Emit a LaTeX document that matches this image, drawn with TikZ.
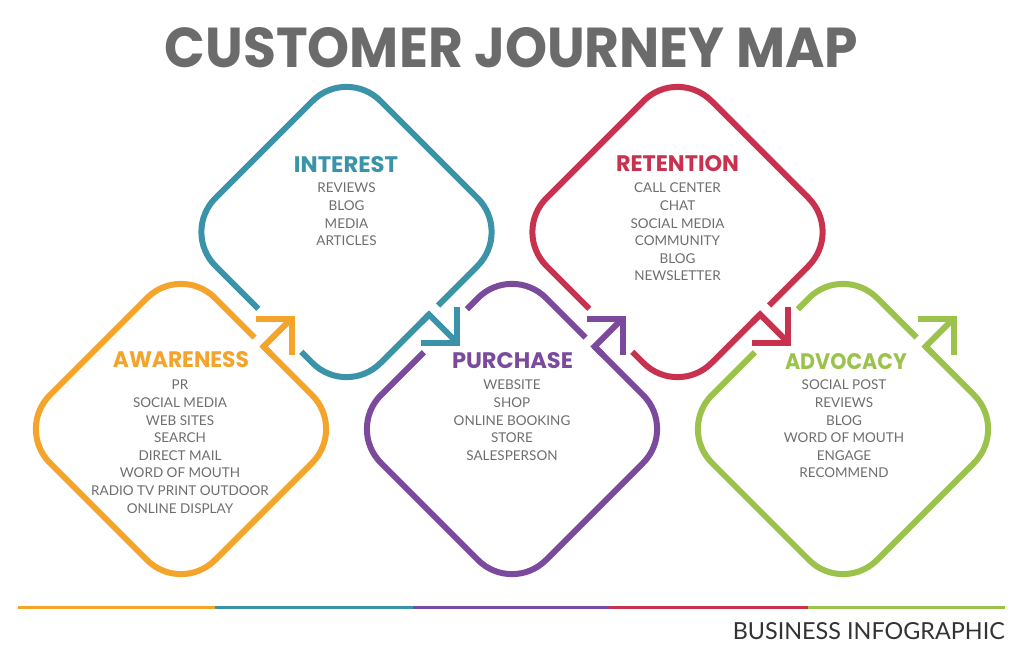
\documentclass[tikz,border=0pt]{standalone}
\usepackage{fontspec}
\setmainfont{Lato}
\newfontfamily\headfont{Poppins}
\usetikzlibrary{calc}
\definecolor{cOr}{HTML}{F4A42A}
\definecolor{cBl}{HTML}{3A93A8}
\definecolor{cPu}{HTML}{7B4A9C}
\definecolor{cRe}{HTML}{C9324F}
\definecolor{cGr}{HTML}{9BC34C}
\definecolor{cTx}{HTML}{6E6E6E}
\definecolor{cTi}{HTML}{6B6B6B}
\tikzset{
  loopline/.style={line width=6pt, rounded corners=48pt, line cap=butt},
  arrline/.style={line width=6pt, sharp corners, line join=miter, line cap=butt},
  heading/.style={inner sep=0pt, font=\headfont\bfseries},
  items/.style={inner sep=0pt, anchor=north, align=center, text=cTx,
    font=\fontsize{13.5}{17.6}\selectfont},
}
\begin{document}
\begin{tikzpicture}[x=1pt,y=-1pt]
\fill[white] (0,0) rectangle (1024,658);
\useasboundingbox (0,0) rectangle (1024,658);
% centres
\coordinate (cA) at (181,429);
\coordinate (cI) at (346.5,232);
\coordinate (cP) at (512,429);
\coordinate (cR) at (677.5,232);
\coordinate (cD) at (843,429);

% ---------- bottom-row loops (Awareness, Purchase, Advocacy)
% Awareness
\draw[loopline, cOr] ($(cA)+(82.5,-82.5)$) -- ($(cA)+(165,0)$) -- ($(cA)+(0,165)$)
  -- ($(cA)+(-165,0)$) -- ($(cA)+(0,-165)$) -- ($(cA)+(73.5,-91.5)$);
\draw[arrline, cOr] ($(cA)+(90.5,-74.5)$) -- ($(cA)+(82.5,-82.5)$) -- ($(cA)+(110.5,-110.5)$);
\draw[arrline, cOr] ($(cA)+(74.5,-110.5)$) -- ($(cA)+(110.5,-110.5)$) -- ($(cA)+(110.5,-74.5)$);

% Purchase
\draw[loopline, cPu] ($(cP)+(82.5,-82.5)$) -- ($(cP)+(165,0)$) -- ($(cP)+(0,165)$)
  -- ($(cP)+(-165,0)$) -- ($(cP)+(-88.25,-76.75)$);
\draw[loopline, cPu] ($(cP)+(-45.25,-119.75)$) -- ($(cP)+(0,-165)$) -- ($(cP)+(73.5,-91.5)$);
\draw[arrline, cPu] ($(cP)+(90.5,-74.5)$) -- ($(cP)+(82.5,-82.5)$) -- ($(cP)+(110.5,-110.5)$);
\draw[arrline, cPu] ($(cP)+(74.5,-110.5)$) -- ($(cP)+(110.5,-110.5)$) -- ($(cP)+(110.5,-74.5)$);

% Advocacy
\draw[loopline, cGr] ($(cD)+(82.5,-82.5)$) -- ($(cD)+(165,0)$) -- ($(cD)+(0,165)$)
  -- ($(cD)+(-165,0)$) -- ($(cD)+(-88.25,-76.75)$);
\draw[loopline, cGr] ($(cD)+(-45.25,-119.75)$) -- ($(cD)+(0,-165)$) -- ($(cD)+(73.5,-91.5)$);
\draw[arrline, cGr] ($(cD)+(90.5,-74.5)$) -- ($(cD)+(82.5,-82.5)$) -- ($(cD)+(110.5,-110.5)$);
\draw[arrline, cGr] ($(cD)+(74.5,-110.5)$) -- ($(cD)+(110.5,-110.5)$) -- ($(cD)+(110.5,-74.5)$);

% ---------- top-row loops (Interest, Retention)
% Interest
\draw[loopline, cBl] ($(cI)+(91.5,73.5)$) -- ($(cI)+(165,0)$) -- ($(cI)+(0,-165)$)
  -- ($(cI)+(-165,0)$) -- ($(cI)+(-88.25,76.75)$);
\draw[loopline, cBl] ($(cI)+(-45.25,119.75)$) -- ($(cI)+(0,165)$) -- ($(cI)+(82.5,82.5)$);
\draw[arrline, cBl] ($(cI)+(74.5,90.5)$) -- ($(cI)+(82.5,82.5)$) -- ($(cI)+(110.5,110.5)$);
\draw[arrline, cBl] ($(cI)+(74.5,110.5)$) -- ($(cI)+(110.5,110.5)$) -- ($(cI)+(110.5,74.5)$);

% Retention
\draw[loopline, cRe] ($(cR)+(91.5,73.5)$) -- ($(cR)+(165,0)$) -- ($(cR)+(0,-165)$)
  -- ($(cR)+(-165,0)$) -- ($(cR)+(-88.25,76.75)$);
\draw[loopline, cRe] ($(cR)+(-45.25,119.75)$) -- ($(cR)+(0,165)$) -- ($(cR)+(82.5,82.5)$);
\draw[arrline, cRe] ($(cR)+(74.5,90.5)$) -- ($(cR)+(82.5,82.5)$) -- ($(cR)+(110.5,110.5)$);
\draw[arrline, cRe] ($(cR)+(74.5,110.5)$) -- ($(cR)+(110.5,110.5)$) -- ($(cR)+(110.5,74.5)$);

% ---------- title
\node[heading, text=cTi] (title) at (511.5,48) {\resizebox{693pt}{40pt}{CUSTOMER JOURNEY MAP}};

% ---------- headings
\node[heading, text=cOr] (hA) at ($(cA)+(0,-69)$) {\resizebox{136pt}{16pt}{AWARENESS}};
\node[heading, text=cBl] (hI) at ($(cI)+(-0.5,-67)$) {\resizebox{104pt}{16pt}{INTEREST}};
\node[heading, text=cPu] (hP) at ($(cP)+(0.5,-68)$) {\resizebox{121pt}{16pt}{PURCHASE}};
\node[heading, text=cRe] (hR) at ($(cR)+(0,-68)$) {\resizebox{123pt}{16pt}{RETENTION}};
\node[heading, text=cGr] (hD) at ($(cD)+(3,-67)$) {\resizebox{122pt}{16pt}{ADVOCACY}};

% ---------- items
\node[items] (iA) at ($(cA)+(-1,-49)$) {PR\\SOCIAL MEDIA\\WEB SITES\\SEARCH\\DIRECT MAIL\\WORD OF MOUTH\\RADIO TV PRINT OUTDOOR\\ONLINE DISPLAY};
\node[items] (iI) at ($(cI)+(0,-49)$) {REVIEWS\\BLOG\\MEDIA\\ARTICLES};
\node[items] (iP) at ($(cP)+(0,-49)$) {WEBSITE\\SHOP\\ONLINE BOOKING\\STORE\\SALESPERSON};
\node[items] (iR) at ($(cR)+(0,-49)$) {CALL CENTER\\CHAT\\SOCIAL MEDIA\\COMMUNITY\\BLOG\\NEWSLETTER};
\node[items] (iD) at ($(cD)+(1,-49)$) {SOCIAL POST\\REVIEWS\\BLOG\\WORD OF MOUTH\\ENGAGE\\RECOMMEND};

% ---------- bottom coloured rule
\coordinate (l0) at (18,607);
\coordinate (l1) at (215.4,607);
\coordinate (l2) at (412.8,607);
\coordinate (l3) at (610.2,607);
\coordinate (l4) at (807.6,607);
\coordinate (l5) at (1005,607);
\draw[cOr, line width=3pt] (l0) -- (l1);
\draw[cBl, line width=3pt] (l1) -- (l2);
\draw[cPu, line width=3pt] (l2) -- (l3);
\draw[cRe, line width=3pt] (l3) -- (l4);
\draw[cGr, line width=3pt] (l4) -- (l5);

\node[anchor=south east, inner sep=0pt, text=black!80] (biz) at (1005,640)
  {\resizebox{272pt}{17pt}{BUSINESS INFOGRAPHIC}};
\end{tikzpicture}
\end{document}
